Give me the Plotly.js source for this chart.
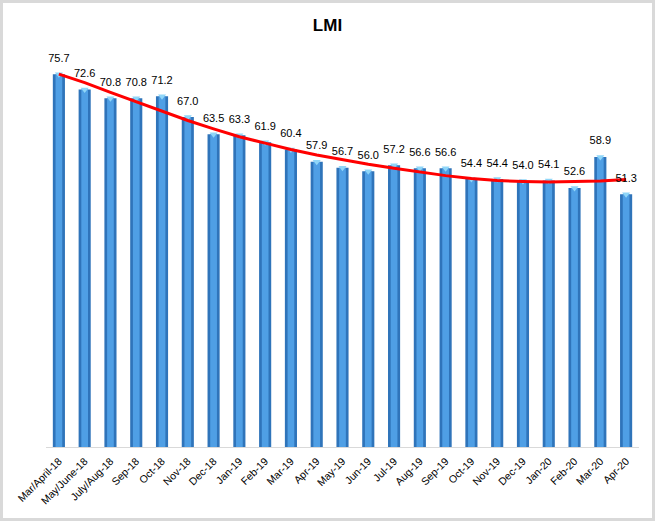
<!DOCTYPE html>
<html>
<head>
<meta charset="utf-8">
<script src="https://cdn.plot.ly/plotly-3.0.1.min.js"></script>
<style>
  html, body { margin: 0; padding: 0; background: #ffffff; }
  #chart { width: 649px; height: 515px; border: 3px solid #d9d9d9; }
</style>
</head>
<body>
<div id="chart"></div>
<script>
const categories = ["Mar/April-18","May/June-18","July/Aug-18","Sep-18","Oct-18","Nov-18","Dec-18","Jan-19","Feb-19","Mar-19","Apr-19","May-19","Jun-19","Jul-19","Aug-19","Sep-19","Oct-19","Nov-19","Dec-19","Jan-20","Feb-20","Mar-20","Apr-20"];
const lmiValues = [75.7,72.6,70.8,70.8,71.2,67.0,63.5,63.3,61.9,60.4,57.9,56.7,56.0,57.2,56.6,56.6,54.4,54.4,54.0,54.1,52.6,58.9,51.3];
const trendValues = [75.7,74.0,72.0,70.1,68.2,66.3,64.6,63.0,61.7,60.4,59.3,58.3,57.4,56.6,55.8,55.1,54.5,54.1,53.9,53.8,53.9,54.0,54.3];
const labels = lmiValues.map(v => v.toFixed(1));

const font = "Liberation Sans, Arial, sans-serif";

const traces = [
  { type: "bar", x: categories, y: lmiValues, width: 0.47,
    marker: { color: "#2f74ba" }, hoverinfo: "skip" },
  { type: "bar", x: categories, y: lmiValues, width: 0.26,
    marker: { color: "#4f9fe5" }, hoverinfo: "skip" },
  { type: "scatter", mode: "markers", x: categories, y: lmiValues,
    marker: { symbol: "triangle-down", size: 7, color: "#8fd6f8" },
    cliponaxis: false, hoverinfo: "skip" },
  { type: "scatter", mode: "lines", x: categories, y: trendValues,
    line: { color: "#ff0000", width: 3 }, cliponaxis: false, hoverinfo: "skip" },
  { type: "scatter", mode: "markers+text", x: categories, y: lmiValues, text: labels,
    marker: { size: 14, opacity: 0 },
    textposition: "top center", cliponaxis: false,
    textfont: { family: font, size: 11, color: "#000000" }, hoverinfo: "skip" }
];

const layout = {
  width: 649, height: 515,
  margin: { l: 43, r: 13, t: 50, b: 71 },
  paper_bgcolor: "#ffffff", plot_bgcolor: "#ffffff",
  showlegend: false,
  barmode: "overlay",
  title: { text: "<b>LMI</b>", font: { family: font, size: 17, color: "#000000" },
           x: 0.5, xanchor: "center", y: 0.957, yref: "container", yanchor: "middle" },
  xaxis: { type: "category", tickangle: -45, showgrid: false, showline: true,
           automargin: false, range: [-0.5, categories.length - 0.5], autorange: false,
           linecolor: "#d9d9d9", linewidth: 1, ticks: "", ticklabelstandoff: 3,
           tickfont: { family: font, size: 10.5, color: "#000000" } },
  yaxis: { range: [0, 80], visible: false, showgrid: false, zeroline: false }
};

Plotly.newPlot("chart", traces, layout, { displayModeBar: false, staticPlot: true });
</script>
</body>
</html>
